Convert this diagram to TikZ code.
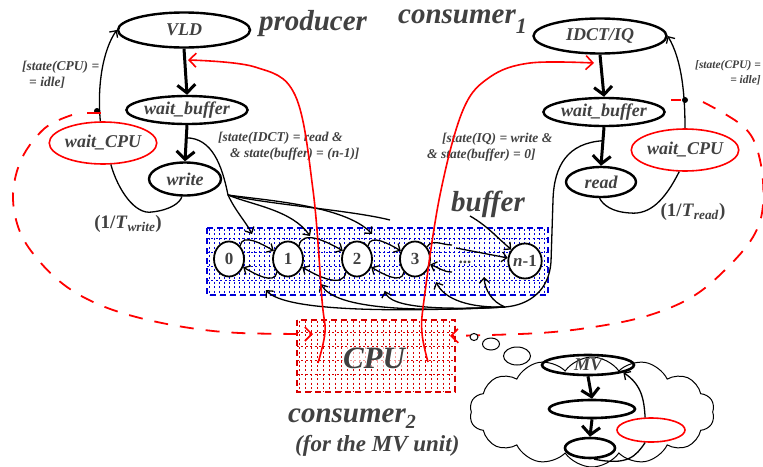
\documentclass[tikz,border=0pt]{standalone}
\usepackage{fontspec}
\setmainfont{Liberation Serif}
\usetikzlibrary{arrows.meta,shapes.geometric,shapes.symbols,calc}
\definecolor{txt}{RGB}{65,65,65}
\newcommand\dgnode{\fontsize{18}{18}\selectfont\bfseries\itshape}
\newcommand\dglabel{\fontsize{13.5}{16}\selectfont\bfseries\itshape}
\newcommand\dgbig{\fontsize{29}{29}\selectfont\bfseries\itshape}
\newcommand\dgslot{\fontsize{17}{17}\selectfont\bfseries}
\begin{document}
\begin{tikzpicture}[x=1pt,y=-1pt,
  every node/.style={text=txt},
  statebox/.style={ellipse,draw=black,line width=2.4pt,inner sep=0pt,font=\dgnode},
  waitcpu/.style={ellipse,draw=red,line width=1.6pt,inner sep=0pt,font=\dgnode},
  slot/.style={ellipse,draw=black,line width=1.8pt,minimum width=30pt,minimum height=35pt,inner sep=0pt,font=\dgslot,fill=white},
  lbl/.style={font=\dglabel,inner sep=0pt},
  bigtxt/.style={font=\dgbig,inner sep=0pt},
  bigarrow/.style={line width=3pt,-{Straight Barb[length=8pt,width=18pt,line width=3pt]}},
  link/.style={line width=1.3pt,-{Straight Barb[length=5pt,width=10pt,line width=1.3pt]}},
  plainlink/.style={line width=1.3pt},
  cpulink/.style={red,line width=1.6pt,-{Straight Barb[length=7pt,width=14pt,line width=1.6pt]}},
  cpudash/.style={red,line width=1.8pt,dash pattern=on 14pt off 12pt,-{Straight Barb[length=7pt,width=14pt,line width=1.6pt]}},
  dotcol/.style={line width=1pt,dash pattern=on 2pt off 2.4pt},
]
\useasboundingbox (0,0) rectangle (763,466);
\clip (0,0) rectangle (763,466);

% ---------- shared buffer ----------
\begin{scope}
  \clip (207,228) rectangle (548,295);
  \foreach \xx in {209,214,...,548} \draw[dotcol,blue!85!black] (\xx,229) -- (\xx,295);
  \foreach \yy in {238,252,266,280} \draw[dotcol,blue!85!black,line width=0.7pt] (207,\yy) -- (548,\yy);
\end{scope}
\draw[blue!85!black,line width=2pt,dash pattern=on 6pt off 4pt] (207,228) rectangle (548,295);
\node[slot] (b0) at (229,259) {0};
\node[slot] (b1) at (288,259) {1};
\node[slot] (b2) at (357,259) {2};
\node[slot] (b3) at (415,259) {3};
\node[slot] (bn) at (525,261) {\itshape n\upshape -1};
\node[font=\dgslot,fill=white,inner sep=1pt] (bdots) at (465,262) {...};
\node[bigtxt] (buflbl) at (488,204) {buffer};

% ---------- CPU ----------
\begin{scope}
  \clip (297,320) rectangle (455,392);
  \foreach \xx in {299,305,...,455} \draw[dotcol,red!85!black] (\xx,321) -- (\xx,392);
  \foreach \yy in {332,346,360,374} \draw[dotcol,red!85!black,line width=0.7pt] (297,\yy) -- (455,\yy);
\end{scope}
\draw[red!85!black,line width=2pt,dash pattern=on 6pt off 4pt] (297,320) rectangle (455,392);
\node[font=\fontsize{31}{31}\selectfont\bfseries\itshape,inner sep=1pt,fill=white,fill opacity=0.6,text opacity=1] (cpu) at (374,358) {CPU};

% ---------- producer ----------
\node[statebox,minimum width=132pt,minimum height=35pt] (vld) at (184,30) {VLD};
\node[statebox,minimum width=119pt,minimum height=28pt] (wbL) at (187,110) {wait\_buffer};
\node[statebox,minimum width=72pt,minimum height=33pt] (write) at (185,179) {write};
\node[waitcpu,minimum width=93pt,minimum height=42pt] (wcL) at (103,143) {wait\_CPU};
\node[bigtxt] (prod) at (313,24) {producer};

\draw[bigarrow] (vld.south) -- (wbL.north);
\draw[bigarrow] (wbL.south) -- (write.north);

\node[lbl,align=left,anchor=west] (condCL) at (22,75) {[state(CPU) =\\\hspace*{7pt}= idle]};
\node[lbl,align=left,anchor=west] (condWL) at (218,146) {[state(IDCT) = read \&\\\hspace*{12pt}\& state(buffer) = (n-1)]};
\node[font=\fontsize{19}{19}\selectfont\bfseries,inner sep=0pt] (twrite) at (128,224) {(1/\textit{T}\textsubscript{\textit{write}})};

\draw[link] (wcL.97) .. controls (97,85) and (103,50) .. (vld.west);
\fill (97,111) circle (3pt);
\draw[red,line width=1.6pt] (87,113) -- (101,113);
\draw[plainlink] (wcL.-70) .. controls (118,190) and (135,215) .. (152,212)
  .. controls (170,210) and (180,203) .. (write.-100);

% ---------- consumer 1 ----------
\node[statebox,minimum width=133pt,minimum height=35pt] (ida) at (600,36) {IDCT/IQ};
\node[statebox,minimum width=120pt,minimum height=28pt] (wbR) at (604,112) {wait\_buffer};
\node[statebox,minimum width=70pt,minimum height=30pt] (read) at (601,182) {read};
\node[waitcpu,minimum width=93pt,minimum height=42pt] (wcR) at (685,150) {wait\_CPU};
\node[bigtxt,anchor=west] (cons1) at (398,22) {consumer\raisebox{-0.35em}{\fontsize{22}{22}\selectfont 1}};

\draw[bigarrow] (ida.south) -- (wbR.north);
\draw[bigarrow] (wbR.south) -- (read.north);

\node[lbl,align=left,anchor=west] (condWR) at (427,147) {\hspace*{15pt}[state(IQ) = write \&\\\& state(buffer) = 0]};
\node[lbl,font=\fontsize{11.5}{15}\selectfont\bfseries\itshape,align=right,anchor=east] (condCR) at (761,73) {[state(CPU) =\\= idle]};
\node[font=\fontsize{19}{19}\selectfont\bfseries,inner sep=0pt] (tread) at (693,212) {(1/\textit{T}\textsubscript{\textit{read}})};

\draw[link] (wcR.north) .. controls (685,95) and (682,60) .. (ida.east);
\fill (685,100) circle (3pt);
\draw[red,line width=1.6pt] (671,100) -- (681,100);
\draw[plainlink] (wcR.-105) .. controls (665,200) and (650,215) .. (630,213)
  .. controls (612,212) and (603,205) .. (read.-95);

% ---------- buffer slot links ----------
\draw[link] (b0.50) to[out=80,in=150] (b1.150);
\draw[link] (b1.50) to[out=80,in=150] (b2.150);
\draw[link] (b2.50) to[out=80,in=150] (b3.150);
\draw[plainlink] (b3.45) to[out=60,in=180] (452,245);
\draw[link] (b1.230) to[out=-100,in=-30] (b0.-30);
\draw[link] (b2.230) to[out=-100,in=-30] (b1.-30);
\draw[link] (b3.230) to[out=-100,in=-30] (b2.-30);
\draw[link] (452,272) to[out=180,in=-20] (b3.-20);
\draw[link] (456,248) -- (bn.170);
\draw[link] (470,216) to[out=-30,in=140] (bn.140);

% writer side: fan into the slots
\draw[plainlink] ($(wbL.south)!0.35!(write.north)$) .. controls (212,138) and (222,165) .. (228,195) coordinate (fanw);
\draw[link] (fanw) .. controls (236,212) and (246,222) .. (252,234);
\draw[link] (fanw) .. controls (252,205) and (292,210) .. (310,236);
\draw[link] (fanw) .. controls (262,200) and (345,205) .. (372,234);
\draw[plainlink] (fanw) .. controls (272,205) and (350,210) .. (390,220);

% reader side: fan into the slots
\draw[plainlink] ($(wbR.south)!0.35!(read.north)$) .. controls (568,143) and (554,165) .. (553,200)
  -- (551,262) .. controls (549,290) and (530,305) .. (505,307) coordinate (fanr);
\draw[link] (fanr) .. controls (492,302) and (485,290) .. (484,277);
\draw[link] (fanr) .. controls (470,308) and (445,300) .. (436,282);
\draw[link] (fanr) .. controls (440,310) and (390,308) .. (385,291);
\draw[link] (fanr) .. controls (420,312) and (335,310) .. (321,284);
\draw[link] (fanr) .. controls (400,312) and (285,312) .. (266,290);

% ---------- CPU requests ----------
\draw[cpulink] plot[smooth,tension=0.6] coordinates {(318,363) (325,332) (322,300) (313,190) (295,95) (255,67) (188,60)};
\draw[cpulink] plot[smooth,tension=0.6] coordinates {(428,362) (422,333) (424,300) (440,195) (463,110) (490,77) (530,63) (594,63)};
\draw[cpudash] plot[smooth,tension=0.6] coordinates {(72,115) (45,128) (22,158) (13,195) (20,232) (40,262) (67,287) (100,305) (140,318) (190,328) (240,333) (313,334)};
\draw[cpudash] plot[smooth,tension=0.6] coordinates {(703,102) (745,128) (760,160) (763,205) (753,237) (725,270) (692,297) (650,315) (600,326) (540,333) (450,336)};

% ---------- consumer 2 ----------
\node[draw=black,line width=1pt,ellipse,minimum width=8pt,minimum height=7pt,inner sep=0pt,fill=white] (bub1) at (474,337) {};
\node[draw=black,line width=1pt,ellipse,minimum width=17pt,minimum height=12pt,inner sep=0pt,fill=white] (bub2) at (491,344) {};
\node[draw=black,line width=1pt,ellipse,minimum width=27pt,minimum height=18pt,inner sep=0pt,fill=white] (bub3) at (517,356) {};
\node[cloud,draw=black,line width=1pt,cloud puffs=14,cloud puff arc=110,aspect=2.2,
  minimum width=245pt,minimum height=110pt,inner sep=0pt] (cloud) at (592,412) {};
\node[statebox,minimum width=92pt,minimum height=20pt,line width=2.6pt] (mv) at (588,365) {MV};
\node[statebox,minimum width=86pt,minimum height=18pt,line width=2.6pt] (mv2) at (592,409) {};
\node[statebox,minimum width=50pt,minimum height=20pt,line width=2.6pt] (mv3) at (590,448) {};
\node[waitcpu,minimum width=68pt,minimum height=24pt] (mvw) at (651,430) {};
\draw[bigarrow] (mv.south) -- (mv2.north);
\draw[bigarrow] (mv2.south) -- (mv3.north);
\draw[link] (mvw.115) .. controls (644,400) and (642,385) .. (mv.-12);
\draw[plainlink] (mvw.-115) .. controls (636,456) and (628,466) .. (mv3.-70);
\node[bigtxt,anchor=west] (cons2) at (288,419) {consumer\raisebox{-0.2em}{\fontsize{20}{20}\selectfont 2}};
\node[font=\fontsize{23}{23}\selectfont\bfseries\itshape,inner sep=0pt,anchor=west] (cons2b) at (295,446) {(for the MV unit)};
\end{tikzpicture}
\end{document}
